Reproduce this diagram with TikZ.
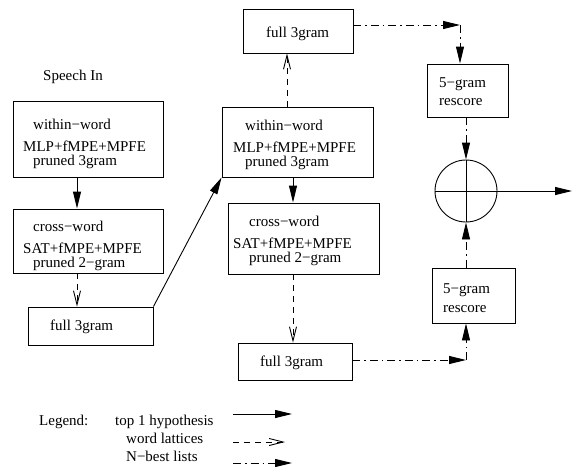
\documentclass[tikz,border=0pt]{standalone}
\usepackage{fontspec}
\setmainfont{Liberation Serif}
\usetikzlibrary{arrows.meta,calc}
\begin{document}
\begin{tikzpicture}[x=1pt,y=-1pt,
  every node/.style={font=\fontsize{15}{18}\selectfont},
  box/.style={draw, line width=0.9pt, inner sep=0pt, rectangle},
  lbl/.style={anchor=base west, inner sep=0pt},
  solidarr/.style={line width=0.9pt, -{Triangle[length=17pt,width=8pt]}},
  latarr/.style={line width=0.9pt, dash pattern=on 6pt off 5pt, -{Straight Barb[length=14pt,width=7pt]}},
  nbarr/.style={line width=0.9pt, dash pattern=on 8pt off 4pt on 1.5pt off 4pt, -{Triangle[length=17pt,width=8pt]}},
  plain/.style={line width=0.9pt}
]
\useasboundingbox (0,0) rectangle (572,466);

% left column
\node[lbl] (speech) at (43,80) {Speech In};
\node[box, minimum width=150pt, minimum height=76pt] (b1) at (88,139) {};
\node[lbl] (b1a) at (33,129) {within−word};
\node[lbl] (b1b) at (23,151) {MLP+fMPE+MPFE};
\node[lbl] (b1c) at (33,165) {pruned 3gram};
\node[box, minimum width=150pt, minimum height=64pt] (b2) at (88,241) {};
\node[lbl] (b2a) at (33,231) {cross−word};
\node[lbl] (b2b) at (23,253) {SAT+fMPE+MPFE};
\node[lbl] (b2c) at (33,267) {pruned 2−gram};
\node[box, minimum width=125pt, minimum height=38pt] (b3) at (90.5,326) {};
\node[lbl] (b3a) at (50,330) {full 3gram};

% middle column
\node[box, minimum width=110pt, minimum height=44pt] (m0) at (298,31) {};
\node[lbl] (m0a) at (266,37) {full 3gram};
\node[box, minimum width=151pt, minimum height=70pt] (m1) at (297.5,142) {};
\node[lbl] (m1a) at (245,130) {within−word};
\node[lbl] (m1b) at (233,152) {MLP+fMPE+MPFE};
\node[lbl] (m1c) at (245,166) {pruned 3gram};
\node[box, minimum width=151pt, minimum height=71pt] (m2) at (303.5,238.5) {};
\node[lbl] (m2a) at (249,226) {cross−word};
\node[lbl] (m2b) at (233,248) {SAT+fMPE+MPFE};
\node[lbl] (m2c) at (249,262) {pruned 2−gram};
\node[box, minimum width=114pt, minimum height=37pt] (m3) at (295,361.5) {};
\node[lbl] (m3a) at (260,366) {full 3gram};

% right column
\node[box, minimum width=81pt, minimum height=53pt] (r1) at (467.5,90.5) {};
\node[lbl] (r1a) at (439,87) {5−gram};
\node[lbl] (r1b) at (439,105) {rescore};
\node[box, minimum width=83pt, minimum height=55pt] (r2) at (473.5,295.5) {};
\node[lbl] (r2a) at (443,293) {5−gram};
\node[lbl] (r2b) at (443,312) {rescore};
\node[draw, circle, line width=0.9pt, minimum size=62pt, inner sep=0pt] (c) at (466,191) {};
\draw[plain] (c.north) -- (c.south);
\draw[plain] (c.west) -- (c.east);

% helper coordinates
\coordinate (x77) at (77,0);
\coordinate (x287) at (287,0);
\coordinate (x293) at (293,0);
\coordinate (x460) at (460,0);
\coordinate (x466) at (466,0);
\coordinate (y25) at (0,25);
\coordinate (y360) at (0,360);
\coordinate (k1) at (460,25);
\coordinate (k2) at (466,360);
\coordinate (out) at (572,191);

% connectors
\draw[solidarr] (b1.south -| x77) -- (b2.north -| x77);
\draw[latarr] (b2.south -| x77) -- (b3.north -| x77);
\draw[solidarr] (b3.north east) -- (m1.south west);
\draw[latarr] (m1.north -| x287) -- (m0.south -| x287);
\draw[solidarr] (m1.south -| x293) -- (m2.north -| x293);
\draw[latarr] (m2.south -| x293) -- (m3.north -| x293);
\draw[nbarr] (m0.east |- y25) -- (k1);
\draw[nbarr] (k1) -- (r1.north -| x460);
\draw[nbarr] (r1.south -| x466) -- (c.north);
\draw[nbarr] (m3.east |- y360) -- (k2);
\draw[nbarr] (k2) -- (r2.south -| x466);
\draw[nbarr] (r2.north -| x466) -- (c.south);
\draw[solidarr] (c.east) -- (out);

% legend
\node[lbl] (lg) at (39,425) {Legend:};
\node[lbl] (lg1) at (115,425) {top 1 hypothesis};
\node[lbl] (lg2) at (126,443) {word lattices};
\node[lbl] (lg3) at (126,461) {N−best lists};
\coordinate (l1s) at (233,414);
\coordinate (l1e) at (292,414);
\coordinate (l2s) at (233,442);
\coordinate (l2e) at (285,442);
\coordinate (l3s) at (233,463);
\coordinate (l3e) at (292,463);
\draw[solidarr] (l1s) -- (l1e);
\draw[latarr] (l2s) -- (l2e);
\draw[nbarr] (l3s) -- (l3e);
\end{tikzpicture}
\end{document}
